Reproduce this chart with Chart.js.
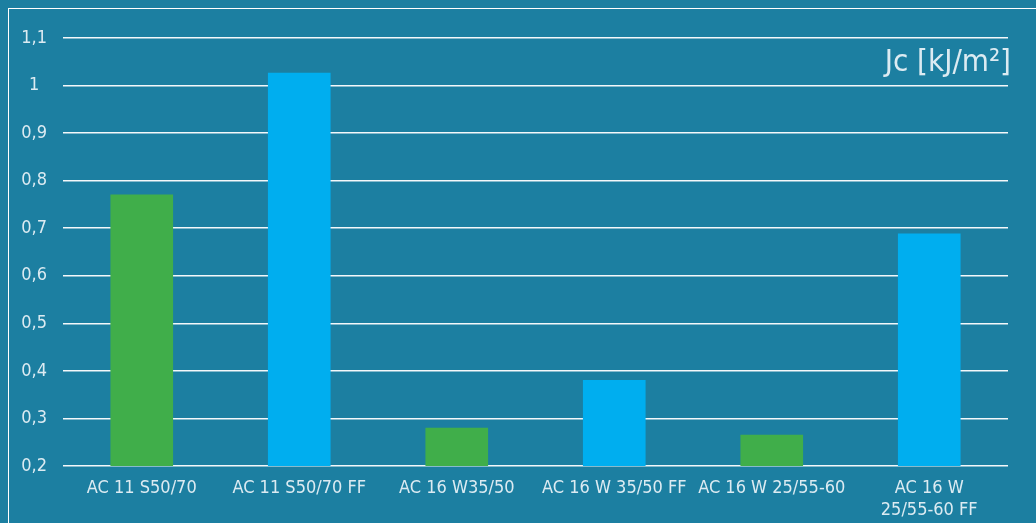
<!DOCTYPE html>
<html><head><meta charset="utf-8">
<script src="https://cdn.jsdelivr.net/npm/chart.js@4"></script>
<style>
html,body{margin:0;padding:0;background:#1c7fa1;width:1036px;height:523px;overflow:hidden}
#frame{position:absolute;left:8px;top:8px;width:1100px;height:600px;border-left:1.5px solid #fff;border-top:1.5px solid #fff}
#wrap{position:absolute;left:0;top:0;width:1036px;height:523px}
</style></head>
<body>
<div id="frame"></div>
<div id="wrap"><canvas id="c" width="1036" height="523"></canvas></div>
<script>
const categories = ["AC 11 S50/70", "AC 11 S50/70 FF", "AC 16 W35/50", "AC 16 W 35/50 FF", "AC 16 W 25/55-60", ["AC 16 W", "25/55-60 FF"]];
const values = [0.77, 1.026, 0.28, 0.38, 0.265, 0.688];
const barColors = ["#40ae4a", "#00aeef", "#40ae4a", "#00aeef", "#40ae4a", "#00aeef"];
const yMin = 0.2, yMax = 1.1, yStep = 0.1;
const unitLabel = "Jc [kJ/m²]";

const FONT = "'DejaVu Sans Condensed', 'DejaVu Sans', sans-serif";
const TXT = "#dcebf2";

const unitPlugin = {
  id: 'unit',
  afterDraw(chart) {
    const {ctx, chartArea, scales} = chart;
    const y1 = scales.y.getPixelForValue(yMax), y2 = scales.y.getPixelForValue(yMax - yStep);
    ctx.save();
    ctx.font = "31px " + FONT;
    ctx.fillStyle = TXT;
    ctx.textAlign = 'right';
    ctx.textBaseline = 'middle';
    ctx.fillText(unitLabel, chartArea.right + 3, (y1 + y2) / 2 + 1);
    ctx.restore();
  }
};

new Chart(document.getElementById('c'), {
  type: 'bar',
  data: {
    labels: categories,
    datasets: [{ data: values, backgroundColor: barColors, barThickness: 62 }]
  },
  options: {
    responsive: false,
    animation: false,
    layout: { padding: { left: 10, right: 28, top: 38, bottom: 0 } },
    plugins: { legend: { display: false }, tooltip: { enabled: false } },
    scales: {
      x: {
        grid: { display: false },
        border: { display: false },
        ticks: { color: TXT, font: { family: FONT, size: 18, lineHeight: 1.25 }, padding: 3, maxRotation: 0, autoSkip: false },
        afterFit(s) { s.height = 57; }
      },
      y: {
        min: yMin, max: yMax,
        grid: { color: 'rgba(255,255,255,0.95)', lineWidth: 1.5, drawTicks: false },
        border: { display: false },
        ticks: {
          stepSize: yStep, color: TXT, padding: 16, crossAlign: 'center',
          font: { family: FONT, size: 18 },
          callback: v => (Math.round(v * 10) / 10).toString().replace('.', ',')
        },
        afterFit(s) { s.width = 53; }
      }
    }
  },
  plugins: [unitPlugin]
});
</script>
</body></html>
